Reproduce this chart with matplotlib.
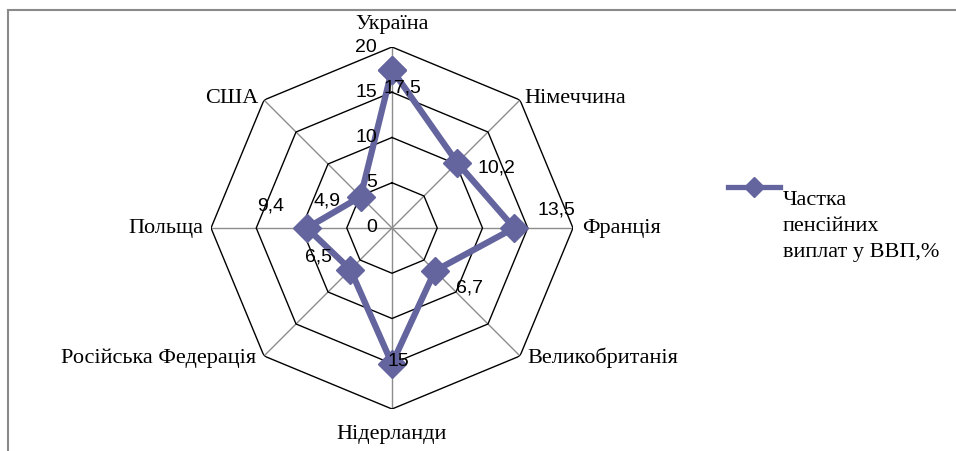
import numpy as np
import matplotlib
matplotlib.use('Agg')
import matplotlib.pyplot as plt
from matplotlib.lines import Line2D
from matplotlib.patches import Rectangle

# дані
countries = ['Україна', 'Німеччина', 'Франція', 'Великобританія',
             'Нідерланди', 'Російська Федерація', 'Польща', 'США']
values = [17.5, 10.2, 13.5, 6.7, 15, 6.5, 9.4, 4.9]
ticks = [0, 5, 10, 15, 20]
series_name = 'Частка\nпенсійних\nвиплат у ВВП,%'

line_color = '#64649e'
serif = 'Liberation Serif'
sans = 'Liberation Sans'

W, H = 956, 451
fig = plt.figure(figsize=(W / 100, H / 100), dpi=100)
fig.patch.set_facecolor('white')

# рамка діаграми (вилазить за межі картинки)
fig.add_artist(Rectangle((8 / W, -0.2), 1.2, 1 - 10 / H + 0.2, transform=fig.transFigure,
                         fill=False, edgecolor='#8a8a8a', linewidth=1.5))

cx, cy, R = 392, 228, 181
ax = fig.add_axes([(cx - R) / W, (H - cy - R) / H, 2 * R / W, 2 * R / H], projection='polar')
ax.set_theta_zero_location('N')
ax.set_theta_direction(-1)
ax.set_ylim(0, 20)
ax.grid(False)
ax.set_xticks([])
ax.set_yticks([])
ax.spines['polar'].set_visible(False)
ax.patch.set_alpha(0)

n = len(countries)
angles = np.linspace(0, 2 * np.pi, n, endpoint=False)
closed = np.append(angles, angles[0])

# сітка: восьмикутники та промені
for a in angles:
    ax.plot([a, a], [0, ticks[-1]], color='#8c8c8c', lw=1, zorder=1)
for t in ticks[1:]:
    ax.plot(closed, [t] * (n + 1), color='black', lw=1, zorder=1)

# підписи шкали
for t in ticks:
    ax.annotate(str(t), xy=(0, t), xytext=(-15, 0), textcoords='offset pixels',
                ha='right', va='center', fontsize=14, family=sans, zorder=5)

# ряд даних
vals_closed = values + values[:1]
ax.plot(closed, vals_closed, color=line_color, lw=4.5, marker='D', markersize=14,
        markerfacecolor=line_color, markeredgecolor=line_color, zorder=3)

# підписи значень
val_offsets = [(10, -18), (39, -5), (42, 18), (35, -17), (6, 2), (-32, 13), (-36, 22), (-34, -4)]
for a, v, off in zip(angles, values, val_offsets):
    ax.annotate(str(v).replace('.', ','), xy=(a, v), xytext=off, textcoords='offset pixels',
                ha='center', va='center', fontsize=14, family=sans, zorder=6)

# назви країн
cat_style = [((0, 23), 'center'), ((4, 2), 'left'), ((9, 0), 'left'), ((7, -2), 'left'),
             ((0, -26), 'center'), ((-8, -2), 'right'), ((-8, 0), 'right'), ((-6, 2), 'right')]
for a, name, (off, ha) in zip(angles, countries, cat_style):
    ax.annotate(name, xy=(a, 20), xytext=off, textcoords='offset pixels',
                ha=ha, va='center', fontsize=16, family=serif, annotation_clip=False)

# легенда
fig.add_artist(Line2D([728 / W, 780 / W], [1 - 187 / H] * 2, transform=fig.transFigure,
                      color=line_color, lw=3.8))
fig.add_artist(Line2D([754 / W], [1 - 187 / H], transform=fig.transFigure,
                      color=line_color, marker='D', markersize=10, linestyle='none'))
fig.text(783 / W, 1 - 191 / H, series_name, ha='left', va='top', fontsize=16,
         family=serif, linespacing=1.5)

fig.savefig('out.png', dpi=100)
